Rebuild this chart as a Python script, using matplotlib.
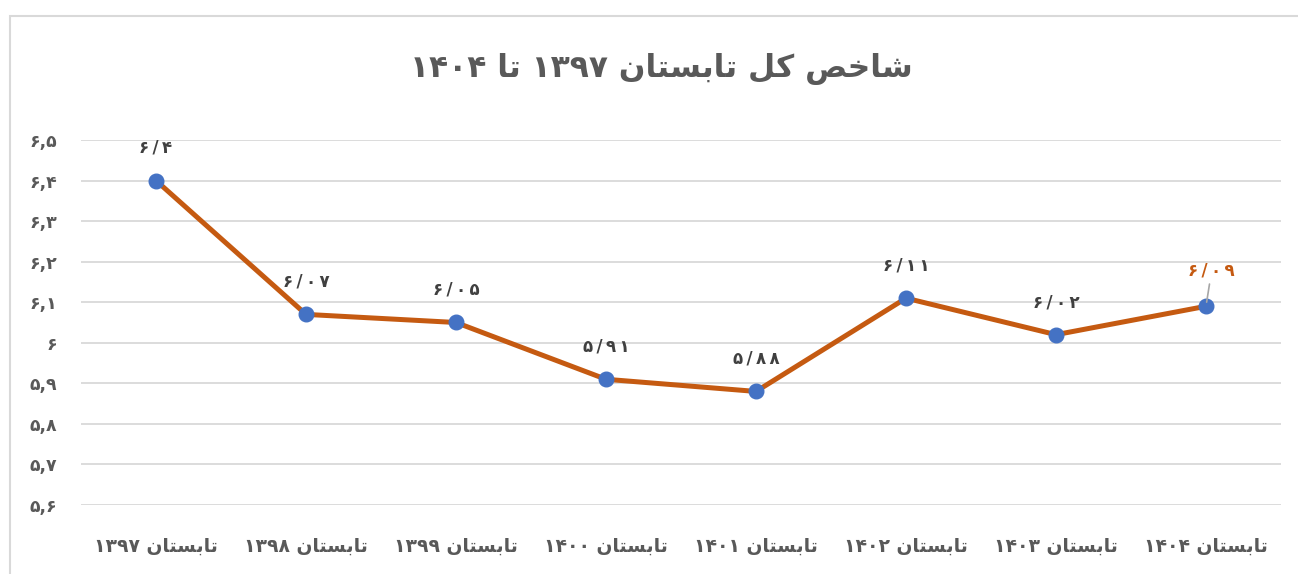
import matplotlib
matplotlib.use("Agg")
import matplotlib.pyplot as plt
from matplotlib.patches import Rectangle

# داده ها
saal = ["۱۳۹۷", "۱۳۹۸", "۱۳۹۹", "۱۴۰۰", "۱۴۰۱", "۱۴۰۲", "۱۴۰۳", "۱۴۰۴"]
shakhes = [6.40, 6.07, 6.05, 5.91, 5.88, 6.11, 6.02, 6.09]
barchasb = ["۶/۴", "۶/۰۷", "۶/۰۵", "۵/۹۱", "۵/۸۸", "۶/۱۱", "۶/۰۲", "۶/۰۹"]
y_ticks = [5.6, 5.7, 5.8, 5.9, 6.0, 6.1, 6.2, 6.3, 6.4, 6.5]
y_labels = ["۵,۶", "۵,۷", "۵,۸", "۵,۹", "۶", "۶,۱", "۶,۲", "۶,۳", "۶,۴", "۶,۵"]
onvan = "شاخص کل تابستان ۱۳۹۷ تا ۱۴۰۴"
fasl = "تابستان"

# شکل های حروف: (تنها، پایانی، آغازی، میانی)
FORMS = {
    "ا": ("\uFE8D", "\uFE8E", None, None),
    "ب": ("\uFE8F", "\uFE90", "\uFE91", "\uFE92"),
    "ت": ("\uFE95", "\uFE96", "\uFE97", "\uFE98"),
    "خ": ("\uFEA5", "\uFEA6", "\uFEA7", "\uFEA8"),
    "س": ("\uFEB1", "\uFEB2", "\uFEB3", "\uFEB4"),
    "ش": ("\uFEB5", "\uFEB6", "\uFEB7", "\uFEB8"),
    "ص": ("\uFEB9", "\uFEBA", "\uFEBB", "\uFEBC"),
    "ک": ("\uFB8E", "\uFB8F", "\uFB90", "\uFB91"),
    "ل": ("\uFEDD", "\uFEDE", "\uFEDF", "\uFEE0"),
    "ن": ("\uFEE5", "\uFEE6", "\uFEE7", "\uFEE8"),
}


def dual(c):
    return c in FORMS and FORMS[c][2] is not None


def shape_word(w):
    out = []
    for i, c in enumerate(w):
        if c not in FORMS:
            out.append(c)
            continue
        prev_join = i > 0 and dual(w[i - 1])
        next_join = dual(c) and i + 1 < len(w) and w[i + 1] in FORMS
        iso, fin, ini, med = FORMS[c]
        if prev_join and next_join:
            out.append(med)
        elif prev_join:
            out.append(fin)
        elif next_join:
            out.append(ini)
        else:
            out.append(iso)
    return "".join(reversed(out))


# متن راست به چپ برای نمایش
def rtl(s):
    parts = []
    for w in s.split(" "):
        if any(c in FORMS for c in w):
            parts.append(shape_word(w))
        else:
            parts.append(w)
    return " ".join(reversed(parts))


def spaced(s):
    return "\u2009".join(s)


matn = "#595959"
fig = plt.figure(figsize=(12.98, 5.74), dpi=100)
fig.patches.append(Rectangle((10 / 1298, -0.01), 1.02, 1 - 16 / 574 + 0.01,
                             transform=fig.transFigure, fill=False,
                             edgecolor="#d9d9d9", linewidth=1.5))

ax = fig.add_axes([81 / 1298, 1 - 505 / 574, 1200 / 1298, 365 / 574])
x = list(range(len(saal)))
ax.plot(x, shakhes, color="#C55A11", linewidth=3.6, marker="o",
        markersize=10.5, markerfacecolor="#4472C4", markeredgecolor="#4472C4",
        zorder=3)

ax.set_xlim(-0.5, len(saal) - 0.5)
ax.set_ylim(5.6, 6.5)
ax.set_yticks(y_ticks)
ax.set_yticklabels(y_labels, fontsize=12.5, fontweight="bold", color=matn,
                   family=["DejaVu Sans"])
ax.set_xticks(x)
ax.set_xticklabels([rtl(fasl + " " + s) for s in saal], fontsize=13.5,
                   fontweight="bold", color=matn, family=["DejaVu Sans"])
ax.tick_params(axis="y", length=0, pad=17)
ax.tick_params(axis="x", length=0, pad=23)
ax.grid(axis="y", color="#d9d9d9", linewidth=1.3)
ax.set_axisbelow(True)
for s in ax.spines.values():
    s.set_visible(False)

for i, (v, b) in enumerate(zip(shakhes, barchasb)):
    if i == len(shakhes) - 1:
        ax.annotate(spaced(b), (i, v), xytext=(4, 19), textcoords="offset points",
                    ha="center", va="bottom", fontsize=12, fontweight="bold",
                    color="#C55A11",
                    arrowprops=dict(arrowstyle="-", color="#a6a6a6", lw=1.2,
                                    shrinkA=1, shrinkB=3))
    else:
        ax.annotate(spaced(b), (i, v), xytext=(0, 17), textcoords="offset points",
                    ha="center", va="bottom", fontsize=12, fontweight="bold",
                    color="#404040")

fig.text(661 / 1298, 1 - 69 / 574, rtl(onvan), ha="center", va="center",
         fontsize=22.5, fontweight="bold", color=matn, family=["DejaVu Sans"])

fig.savefig("out.png", dpi=100)
